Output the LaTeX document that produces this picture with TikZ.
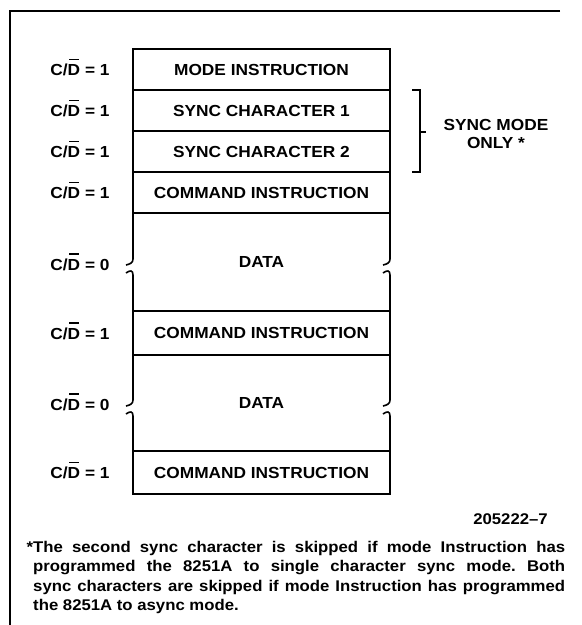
\documentclass[tikz,border=0pt]{standalone}
\usepackage{fontspec}
\setmainfont{Liberation Sans}
\newfontfamily\figfont{Liberation Sans}[FakeStretch=1.08]
\newfontfamily\notefont{Liberation Sans}[FakeStretch=1.08]
\usetikzlibrary{positioning,calc}
\newcommand{\Dbar}{\ooalign{D\cr\hidewidth\rule[15.5pt]{0.6em}{1.3pt}\hidewidth\cr}}

\begin{document}
\begin{tikzpicture}[x=1pt, y=-1pt,
    frame/.style={line width=1.6pt},
    row/.style={draw, line width=1.6pt, minimum width=257pt, minimum height=41pt,
        inner sep=0pt, outer sep=0pt, font=\figfont\bfseries\fontsize{16}{18}\selectfont},
    datarow/.style={row, draw=none, minimum height=#1},
    cd/.style={font=\figfont\bfseries\fontsize{16}{18}\selectfont, inner sep=0pt},
    note/.style={font=\notefont\bfseries\fontsize{15.5}{19.5}\selectfont, inner sep=0pt},
    gap/.pic={
        \draw[frame] (0,-3) .. controls (0,1) and (-3,2) .. (-7,3);
        \draw[frame] (-7,11) .. controls (-3,8) and (0,8) .. (0,13);
    }]
    \useasboundingbox (0,0) rectangle (582,625);

    % frame
    \draw[frame] (560,11) -- (10,11) -- (10,625);

    % sequence of writes
    \node[row] (mode) at (261.5,69.5) {MODE INSTRUCTION};
    \node[row] (sync1) at (261.5,110.5) {SYNC CHARACTER 1};
    \node[row] (sync2) at (261.5,151.5) {SYNC CHARACTER 2};
    \node[row] (cmd1) at (261.5,192.5) {COMMAND INSTRUCTION};
    \node[datarow=98pt] (data1) at (261.5,262) {DATA};
    \node[row, minimum height=44pt] (cmd2) at (261.5,333) {COMMAND INSTRUCTION};
    \node[datarow=96pt] (data2) at (261.5,403) {DATA};
    \node[row, minimum height=43pt] (cmd3) at (261.5,472.5) {COMMAND INSTRUCTION};

    % open sides of the data blocks
    \foreach \r/\s/\t in {cmd1/data1/cmd2, cmd2/data2/cmd3} {
        \draw[frame] (\r.south west) -- ($(\s.west)+(0,-3)$);
        \draw[frame] ($(\s.west)+(0,13)$) -- (\t.north west);
        \draw[frame] (\r.south east) -- ($(\s.east)+(0,-3)$);
        \draw[frame] ($(\s.east)+(0,13)$) -- (\t.north east);
        \pic at (\s.west) {gap};
        \pic at (\s.east) {gap};
    }

    % C/D levels
    \foreach \y/\v [count=\i] in {69.5/1, 110.5/1, 151.5/1, 192.5/1, 264/0, 333/1, 404/0, 472.5/1} {
        \node[cd, anchor=base] (cd\i) at (80,\y+6) {C/\Dbar{} = \v};
    }

    % sync bracket
    \draw[frame] (412,90) -| (420,172) -- (412,172);
    \draw[frame] (420,132) -- (426,132);
    \node[cd, align=center] (syncnote) at (496,134) {SYNC MODE\\ONLY *};

    % footnote
    \node[note, anchor=base east] (figno) at (548,524) {205222–7};
    \node[note, anchor=north west, text width=532pt, align=justify] (footnote) at (33,541)
        {\frenchspacing\hyphenpenalty=10000 \tolerance=9999 \llap{*}The second sync character is skipped if mode Instruction has\linebreak
        programmed the 8251A to single character sync mode. Both\linebreak
        sync characters are skipped if mode Instruction has programmed\linebreak
        the 8251A to async mode.};
\end{tikzpicture}
\end{document}
